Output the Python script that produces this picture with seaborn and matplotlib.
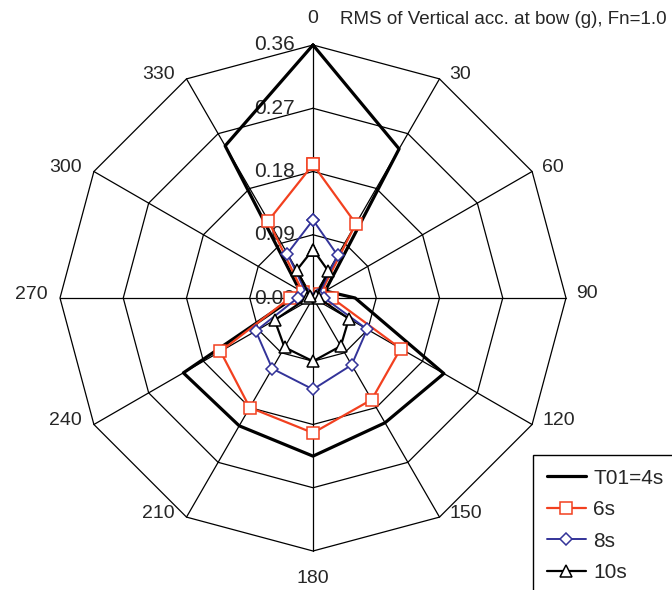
import numpy as np
import seaborn as sns
import matplotlib.pyplot as plt

# wave heading (deg) and RMS vertical acceleration at bow (g)
headings = [0, 30, 60, 90, 120, 150, 180, 210, 240, 270, 300, 330]
rms_4s = [0.360, 0.245, 0.020, 0.060, 0.215, 0.205, 0.225, 0.210, 0.213, 0.028, 0.022, 0.250]
rms_6s = [0.190, 0.122, 0.012, 0.027, 0.144, 0.167, 0.192, 0.180, 0.152, 0.033, 0.017, 0.127]
rms_8s = [0.111, 0.070, 0.009, 0.016, 0.089, 0.110, 0.130, 0.116, 0.094, 0.022, 0.010, 0.073]
rms_10s = [0.069, 0.044, 0.005, 0.008, 0.059, 0.079, 0.090, 0.081, 0.063, 0.008, 0.005, 0.046]
series_names = ['T01=4s', '6s', '8s', '10s']
ring_values = [0.09, 0.18, 0.27, 0.36]
ring_labels = ['0.00', '0.09', '0.18', '0.27', '0.36']

sns.set_style('white')
plt.rcParams['font.family'] = ['Liberation Sans', 'DejaVu Sans']

fig = plt.figure(figsize=(6.72, 5.90), dpi=100)
ax = fig.add_axes([60 / 672, 39 / 590, 506 / 672, 506 / 590], projection='polar')
ax.set_theta_zero_location('N')
ax.set_theta_direction(-1)
ax.set_facecolor('none')
ax.grid(False)
ax.spines['polar'].set_visible(False)

theta = np.deg2rad(headings)
theta_closed = np.append(theta, 2 * np.pi)

# polygon grid like the excel radar chart
for v in ring_values:
    ax.plot(theta_closed, [v] * len(theta_closed), color='black', lw=0.9, clip_on=False, zorder=1)
for t in theta:
    ax.plot([t, t], [0, ring_values[-1]], color='black', lw=0.9, clip_on=False, zorder=1)

styles = [
    dict(color='black', lw=2.3, marker=None),
    dict(color='#F2401F', lw=1.6, marker='s', markersize=8),
    dict(color='#333399', lw=1.4, marker='D', markersize=6),
    dict(color='black', lw=1.6, marker='^', markersize=8.5),
]
all_series = [rms_4s, rms_6s, rms_8s, rms_10s]
for i, (name, vals, st) in enumerate(zip(series_names, all_series, styles)):
    vals_closed = np.append(vals, vals[0])
    extra = {}
    if st['marker']:
        extra = dict(marker=st['marker'], markersize=st['markersize'], markerfacecolor='white',
                     markeredgecolor=st['color'], markeredgewidth=1.1)
    sns.lineplot(x=theta_closed, y=vals_closed, ax=ax, sort=False, estimator=None,
                 color=st['color'], lw=st['lw'], label=name, clip_on=False, zorder=3 + i, **extra)

ax.set_ylim(0, 0.36)
ax.set_xticks([])
ax.set_yticks([])
ax.set_xlabel('')
ax.set_ylabel('')

# heading labels round the outside
for h, t in zip(headings, theta):
    s, c = np.sin(t), np.cos(t)
    if abs(s) < 0.01:
        ha, va = 'center', ('bottom' if c > 0 else 'top')
        off = (0, 18 if c > 0 else -19)
    else:
        ha, va = ('left' if s > 0 else 'right'), 'center'
        off = (10 if s > 0 else -12, 4)
    ax.annotate(str(h), xy=(t, 0.36), xytext=off, textcoords='offset pixels',
                ha=ha, va=va, fontsize=14, annotation_clip=False)

# radial value labels along 0 deg
for v, lab in zip([0.0] + ring_values, ring_labels):
    ax.annotate(lab, xy=(0, v), xytext=(-18, 0), textcoords='offset pixels',
                ha='right', va='center', fontsize=15, annotation_clip=False, zorder=2)

fig.text(340 / 672, 1 - 20 / 590, 'RMS of Vertical acc. at bow (g), Fn=1.0', fontsize=13.5, va='center')

leg = ax.legend(loc='upper left', bbox_to_anchor=(533 / 672, 1 - 455 / 590),
                bbox_transform=fig.transFigure, borderaxespad=0, fontsize=15,
                handlelength=1.9, handletextpad=0.35, labelspacing=0.6, borderpad=0.65,
                fancybox=False, framealpha=1, edgecolor='black')
leg.get_frame().set_linewidth(1.0)

fig.savefig('out.png', dpi=100, facecolor='white')
